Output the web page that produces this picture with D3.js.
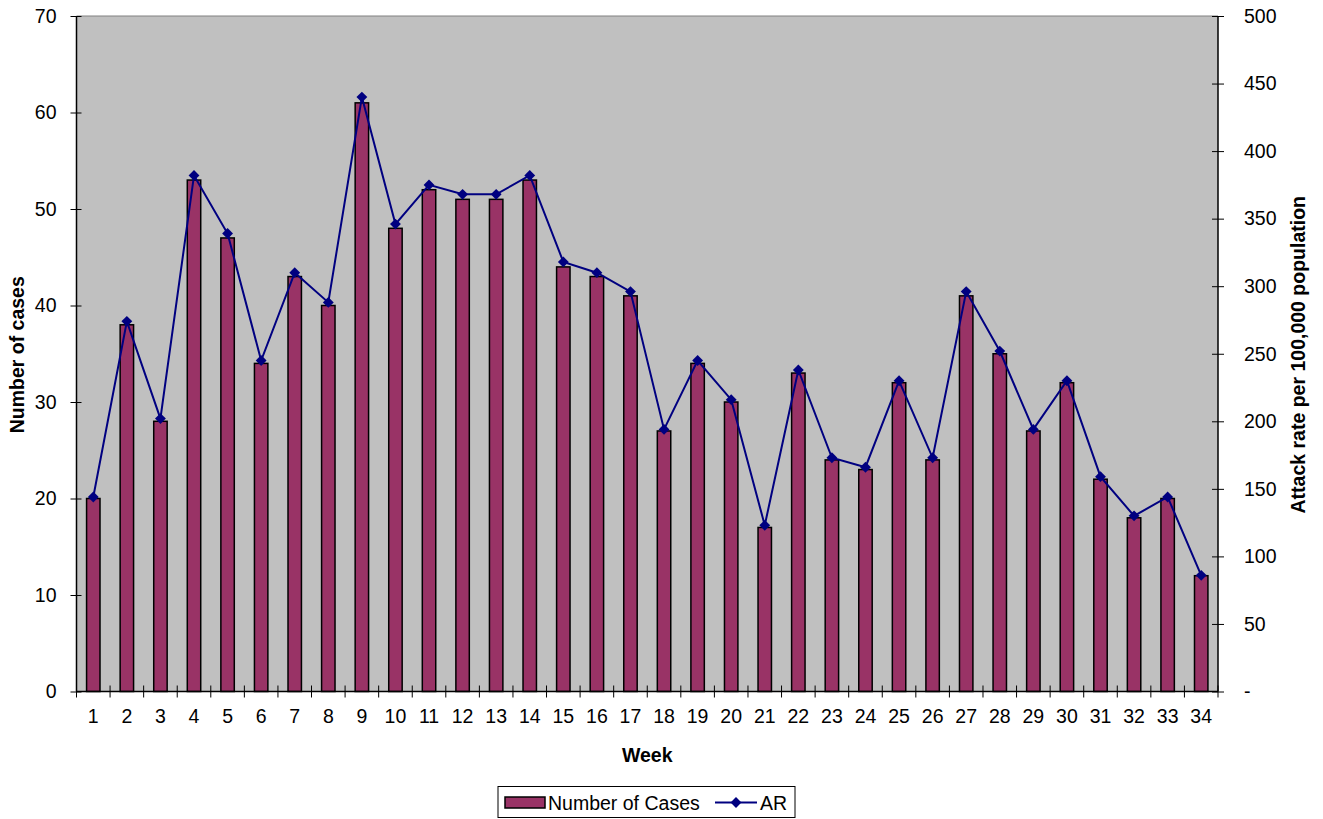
<!DOCTYPE html>
<html>
<head>
<meta charset="utf-8">
<script src="https://cdn.jsdelivr.net/npm/d3@7"></script>
<style>
body { margin: 0; background: #fff; }
svg text { font-family: "Liberation Sans", Arial, sans-serif; }
</style>
</head>
<body>
<svg id="chart"></svg>
<script>
var weeks = d3.range(1, 35).map(String);
var cases = [20, 38, 28, 53, 47, 34, 43, 40, 61, 48, 52, 51, 51, 53, 44, 43, 41, 27, 34, 30,
             17, 33, 24, 23, 32, 24, 41, 35, 27, 32, 22, 18, 20, 12];
var attackRate = [144, 274, 202, 382, 339, 245, 310, 288, 440, 346, 375, 368, 368, 382, 318, 310, 296, 194, 245, 216,
                  123, 238, 173, 166, 230, 173, 296, 252, 194, 230, 159, 130, 144, 86];
var leftTicks = [0, 10, 20, 30, 40, 50, 60, 70];
var rightTicks = [0, 50, 100, 150, 200, 250, 300, 350, 400, 450, 500];

var width = 1323, height = 819;
var plotLeft = 76.5, plotRight = 1218, plotTop = 16, plotBottom = 691.5;
var fontSize = "19.5px";

var svg = d3.select("#chart")
    .attr("width", width)
    .attr("height", height);

var x = d3.scaleBand()
    .domain(weeks)
    .range([plotLeft, plotRight]);

var yL = d3.scaleLinear().domain([0, 70]).range([plotBottom, plotTop]);
var yR = d3.scaleLinear().domain([0, 500]).range([plotBottom, plotTop]);

// plot background
svg.append("rect")
    .attr("x", plotLeft).attr("y", plotTop)
    .attr("width", plotRight - plotLeft).attr("height", plotBottom - plotTop)
    .attr("fill", "#C0C0C0");
svg.append("line")
    .attr("x1", plotLeft).attr("x2", plotRight)
    .attr("y1", plotTop).attr("y2", plotTop)
    .attr("stroke", "#808080").attr("stroke-width", 1);

// bars
var bw = x.bandwidth() * 0.4;
svg.selectAll(".bar")
    .data(cases)
    .enter().append("rect")
    .attr("class", "bar")
    .attr("x", function(d, i) { return x(weeks[i]) + x.bandwidth() / 2 - bw / 2; })
    .attr("y", function(d) { return yL(d); })
    .attr("width", bw)
    .attr("height", function(d) { return plotBottom - yL(d); })
    .attr("fill", "#993366")
    .attr("stroke", "#000")
    .attr("stroke-width", 1.5);

// line
var line = d3.line()
    .x(function(d, i) { return x(weeks[i]) + x.bandwidth() / 2; })
    .y(function(d) { return yR(d); });

svg.append("path")
    .datum(attackRate)
    .attr("d", line)
    .attr("fill", "none")
    .attr("stroke", "#000080")
    .attr("stroke-width", 2);

var diamond = d3.symbol().type(d3.symbolDiamond2).size(75);
svg.selectAll(".pt")
    .data(attackRate)
    .enter().append("path")
    .attr("class", "pt")
    .attr("d", diamond)
    .attr("transform", function(d, i) {
        return "translate(" + (x(weeks[i]) + x.bandwidth() / 2) + "," + yR(d) + ")";
    })
    .attr("fill", "#000080");

// axes
var axL = svg.append("g")
    .attr("transform", "translate(" + plotLeft + ",0)")
    .call(d3.axisLeft(yL).tickValues(leftTicks).tickSize(6).tickPadding(14));
axL.selectAll(".tick line").attr("x2", 5).attr("x1", -6);

var axR = svg.append("g")
    .attr("transform", "translate(" + plotRight + ",0)")
    .call(d3.axisRight(yR).tickValues(rightTicks).tickSize(6).tickPadding(20)
        .tickFormat(function(d) { return d === 0 ? "-" : d; }));
axR.selectAll(".tick line").attr("x1", -6).attr("x2", 6);

var axB = svg.append("g")
    .attr("transform", "translate(0," + plotBottom + ")")
    .call(d3.axisBottom(x).tickSize(0).tickPadding(18));

// x ticks at category boundaries
var bounds = weeks.map(function(w) { return x(w); }).concat([plotRight]);
axB.selectAll(".bound")
    .data(bounds)
    .enter().append("line")
    .attr("x1", function(d) { return d; }).attr("x2", function(d) { return d; })
    .attr("y1", -6).attr("y2", 6)
    .attr("stroke", "#000");

[axL, axR, axB].forEach(function(a) {
    a.select(".domain").attr("stroke", "#000").attr("stroke-width", 1.5);
    a.selectAll(".tick line").attr("stroke", "#000");
    a.selectAll("text").attr("font-size", fontSize).attr("fill", "#000")
        .attr("font-family", "'Liberation Sans', Arial, sans-serif");
});
axL.select(".domain").attr("d", "M0," + plotTop + "V" + plotBottom);
axR.select(".domain").attr("d", "M0," + plotTop + "V" + plotBottom);
axB.select(".domain").attr("d", "M" + plotLeft + ",0H" + plotRight);

// axis titles
svg.append("text")
    .attr("transform", "translate(24," + ((plotTop + plotBottom) / 2 + 1) + ") rotate(-90)")
    .attr("text-anchor", "middle")
    .attr("font-size", fontSize).attr("font-weight", "bold")
    .text("Number of cases");

svg.append("text")
    .attr("transform", "translate(1305," + ((plotTop + plotBottom) / 2 + 1) + ") rotate(-90)")
    .attr("text-anchor", "middle")
    .attr("font-size", fontSize).attr("font-weight", "bold")
    .text("Attack rate per 100,000 population");

svg.append("text")
    .attr("x", (plotLeft + plotRight) / 2)
    .attr("y", 762)
    .attr("text-anchor", "middle")
    .attr("font-size", fontSize).attr("font-weight", "bold")
    .text("Week");

// legend
var lg = svg.append("g");
lg.append("rect")
    .attr("x", 498).attr("y", 786.5)
    .attr("width", 297).attr("height", 31)
    .attr("fill", "#fff").attr("stroke", "#000").attr("stroke-width", 1);
lg.append("rect")
    .attr("x", 505).attr("y", 797)
    .attr("width", 40).attr("height", 11)
    .attr("fill", "#993366").attr("stroke", "#000").attr("stroke-width", 1.5);
lg.append("text")
    .attr("x", 548).attr("y", 810)
    .attr("font-size", fontSize)
    .text("Number of Cases");
lg.append("line")
    .attr("x1", 715).attr("x2", 757)
    .attr("y1", 802.5).attr("y2", 802.5)
    .attr("stroke", "#000080").attr("stroke-width", 2);
lg.append("path")
    .attr("d", diamond)
    .attr("transform", "translate(736,802.5)")
    .attr("fill", "#000080");
lg.append("text")
    .attr("x", 760).attr("y", 810)
    .attr("font-size", fontSize)
    .text("AR");
</script>
</body>
</html>
